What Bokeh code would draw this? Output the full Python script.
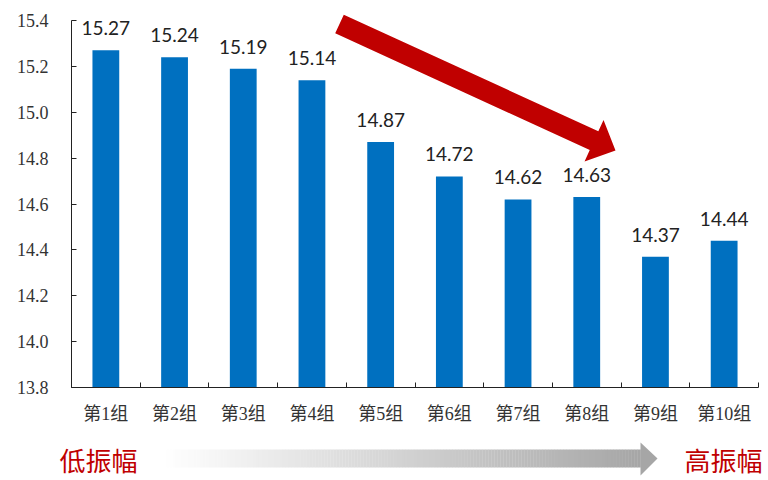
import numpy as np
from bokeh.plotting import figure
from bokeh.layouts import column
from bokeh.models import Range1d, FixedTicker
from bokeh.core.properties import value
from bokeh.embed import file_html
from bokeh.resources import INLINE

# ---------------- data ----------------
groups = ["第1组", "第2组", "第3组", "第4组", "第5组",
          "第6组", "第7组", "第8组", "第9组", "第10组"]
values = [15.27, 15.24, 15.19, 15.14, 14.87, 14.72, 14.62, 14.63, 14.37, 14.44]
y_ticks = [13.8, 14.0, 14.2, 14.4, 14.6, 14.8, 15.0, 15.2, 15.4]
y_tick_labels = ["13.8", "14.0", "14.2", "14.4", "14.6", "14.8", "15.0", "15.2", "15.4"]
left_note = "低振幅"
right_note = "高振幅"

BAR_BLUE = "#0070C0"
RED = "#C00000"

# ---------------- layout geometry ----------------
W = 768
TOP_H = 432
BOT_H = 48
FL, FR = 71, 10         # frame borders (left/right)
FB = 45                 # bottom border for x labels
frame_w = W - FL - FR
frame_h = TOP_H - FB
y0 = 13.8
scale_y = 367.0 / 1.6
y1 = 15.4 + 20.0 / scale_y

n = len(groups)
centers = [i + 0.5 for i in range(n)]

p = figure(width=W, height=TOP_H, output_backend="svg", toolbar_location=None,
           x_range=Range1d(0, n), y_range=Range1d(y0, y1),
           min_border_left=FL, min_border_right=FR, min_border_top=0,
           min_border_bottom=FB, background_fill_color="white",
           border_fill_color="white")
p.outline_line_color = None
p.grid.visible = False
p.frame_align = False

# bars
p.vbar(x=centers, top=values, bottom=y0, width=0.39,
       fill_color=BAR_BLUE, line_color=None)

# value labels
p.text(x=centers, y=values, text=["%.2f" % v for v in values],
       text_align="center", text_baseline="alphabetic", y_offset=-22,
       text_font=value("Lato"), text_font_size="19px", text_color="#222222")

# y axis
ya = p.yaxis[0]
ya.ticker = FixedTicker(ticks=y_ticks, minor_ticks=[])
ya.bounds = (y_ticks[0], y_ticks[-1])
ya.major_label_overrides = {t: s for t, s in zip(y_ticks, y_tick_labels)}
ya.major_tick_in = 5
ya.major_tick_out = 0
ya.minor_tick_line_color = None
ya.major_label_standoff = 23
ya.major_label_text_font = "Liberation Serif"
ya.major_label_text_font_size = "18px"
ya.major_label_text_color = "#333333"
ya.axis_line_color = "#222222"
ya.major_tick_line_color = "#222222"

# x axis: labels at centres, ticks at category boundaries
xa = p.xaxis[0]
xa.ticker = FixedTicker(ticks=centers, minor_ticks=list(range(n + 1)))
xa.major_label_overrides = {c: g for c, g in zip(centers, groups)}
xa.major_tick_line_color = None
xa.minor_tick_in = 5
xa.minor_tick_out = 0
xa.minor_tick_line_color = "#222222"
xa.axis_line_color = "#222222"
xa.major_label_standoff = 10
xa.major_label_text_font = "Liberation Serif, Noto Sans CJK SC"
xa.major_label_text_font_size = "18px"
xa.major_label_text_color = "#333333"


# ---------------- red trend arrow (decoration) ----------------
def ref_to_data(rx, ry):
    return (rx - FL) / frame_w * n, y1 - ry / scale_y


tail = np.array([339.0, 23.5])
tip = np.array([615.0, 150.0])
d = tip - tail
L = np.hypot(*d)
u = d / L
nv = np.array([-u[1], u[0]])
base = tail + u * (L - 23.6)
hw, hh = 10.3, 22.8
pts = [tail + nv * hw, base + nv * hw, base + nv * hh, tip,
       base - nv * hh, base - nv * hw, tail - nv * hw]
ax_, ay_ = zip(*[ref_to_data(*pt) for pt in pts])
p.patch(list(ax_), list(ay_), fill_color=RED, line_color=None)

# ---------------- bottom strip: gradient arrow + notes ----------------
b = figure(width=W, height=BOT_H, output_backend="svg", toolbar_location=None,
           x_range=Range1d(0, W), y_range=Range1d(TOP_H + BOT_H, TOP_H),
           x_axis_type=None, y_axis_type=None,
           min_border_left=0, min_border_right=0, min_border_top=0,
           min_border_bottom=0, background_fill_color="white",
           border_fill_color="white")
b.outline_line_color = None
b.grid.visible = False
b.frame_align = False

x_start, x_head, x_tip = 163.0, 640.0, 657.0
N = 160
edges = np.linspace(x_start, x_head, N + 1)
cols = []
for i in range(N):
    t = (i + 0.5) / N
    g = int(round(255 - (255 - 166) * t))
    cols.append("#%02x%02x%02x" % (g, g, g))
b.quad(left=edges[:-1], right=edges[1:] + 0.3, top=449, bottom=467,
       fill_color=cols, line_color=None)
b.patch([x_head, x_tip, x_head], [442, 458, 475], fill_color="#A6A6A6",
        line_color=None)

b.text(x=[59], y=[458.5], text=[left_note], text_align="left",
       text_baseline="middle", text_font=value("Noto Sans CJK SC"),
       text_font_size="26px", text_color=RED)
b.text(x=[684], y=[458.5], text=[right_note], text_align="left",
       text_baseline="middle", text_font=value("Noto Sans CJK SC"),
       text_font_size="26px", text_color=RED)

layout = column(p, b, spacing=0)
open("out.html", "w").write(file_html(layout, INLINE))
